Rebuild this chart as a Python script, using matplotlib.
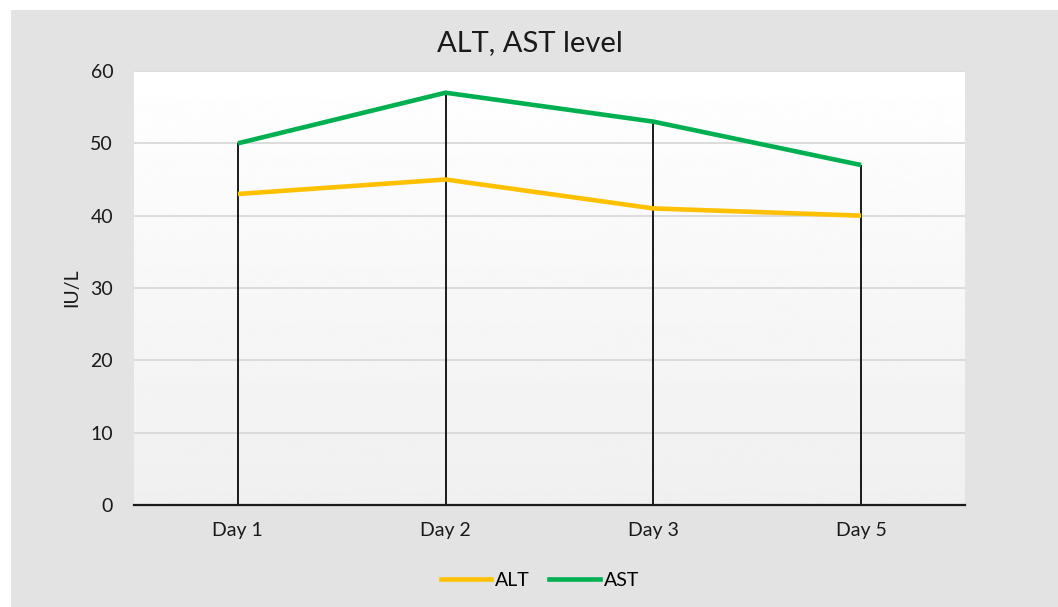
import matplotlib
matplotlib.use("Agg")
import matplotlib.pyplot as plt
import numpy as np
from matplotlib.patches import Rectangle
from matplotlib.lines import Line2D

categories = ["Day 1", "Day 2", "Day 3", "Day 5"]
alt = [43, 45, 41, 40]
ast = [50, 57, 53, 47]
yticks = [0, 10, 20, 30, 40, 50, 60]

plt.rcParams['font.family'] = ['Lato', 'DejaVu Sans']

fig = plt.figure(figsize=(10.58, 6.07), dpi=100)
fig.patch.set_facecolor('white')
fig.patches.append(Rectangle((11/1058, 0), 1 - 11/1058, 1 - 10/607, transform=fig.transFigure,
                             facecolor='#e3e3e3', edgecolor='none', zorder=-10))

ax = fig.add_axes([134/1058, 1 - 505/607, (965-134)/1058, (505-71)/607])
ax.set_facecolor('none')
grad = np.linspace(0.94, 1.0, 256).reshape(-1, 1)
ax.imshow(grad, cmap='gray', vmin=0, vmax=1, aspect='auto', extent=[0, 1, 0, 1],
          transform=ax.transAxes, origin='lower', zorder=0, interpolation='bicubic')

x = np.arange(len(categories))
for yv in yticks[1:]:
    ax.axhline(yv, color='#d9d9d9', lw=1.3, zorder=1)

tops = [max(a, b) for a, b in zip(alt, ast)]
ax.vlines(x, 0, tops, colors='#1a1a1a', lw=1.4, zorder=2)

ax.plot(x, alt, color='#FFC000', lw=3.3, zorder=3, label='ALT', solid_capstyle='butt')
ax.plot(x, ast, color='#00B050', lw=3.3, zorder=4, label='AST', solid_capstyle='butt')

ax.set_xlim(-0.5, len(categories) - 0.5)
ax.set_ylim(0, 60)
ax.set_xticks(x)
ax.set_xticklabels(categories)
ax.set_yticks(yticks)
ax.tick_params(axis='both', length=0, labelsize=14, colors='#1a1a1a')
ax.tick_params(axis='y', pad=15)
ax.tick_params(axis='x', pad=12)
for s in ['top', 'right', 'left']:
    ax.spines[s].set_visible(False)
ax.spines['bottom'].set_color('#1a1a1a')
ax.spines['bottom'].set_linewidth(1.6)
ax.spines['bottom'].set_zorder(5)

ax.set_ylabel('IU/L', fontsize=14, color='#1a1a1a', labelpad=7)
fig.text(0.5 + 0.5/1058, 1 - 43/607, 'ALT, AST level', ha='center', va='center', fontsize=21, color='#1a1a1a')

handles = [Line2D([], [], color='#FFC000', lw=3.3), Line2D([], [], color='#00B050', lw=3.3)]
fig.legend(handles, ['ALT', 'AST'], loc='center', bbox_to_anchor=(540/1058, 1 - 580/607),
           ncol=2, frameon=False, fontsize=14, handlelength=2.6, handletextpad=0.2,
           columnspacing=1.0)

fig.savefig('out.png', dpi=100)
